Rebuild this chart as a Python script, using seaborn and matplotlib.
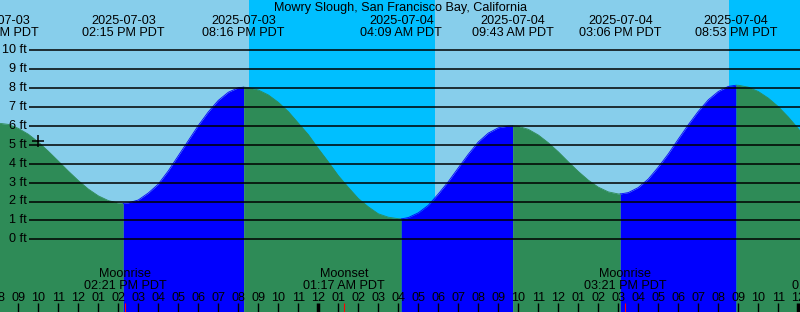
import matplotlib
matplotlib.use("Agg")
import matplotlib.pyplot as plt
import seaborn as sns
import pandas as pd

# ---------------- data ----------------
title = "Mowry Slough, San Francisco Bay, California"

extreme_stamps = ["2025-07-03 07:58 AM", "2025-07-03 02:15 PM", "2025-07-03 08:16 PM",
                  "2025-07-04 04:09 AM", "2025-07-04 09:43 AM", "2025-07-04 03:06 PM",
                  "2025-07-04 08:53 PM"]
extreme_ft = [6.15, 1.90, 8.05, 1.08, 6.00, 2.40, 8.15]

# half-hourly tide heights (hours counted from 2025-07-03 00:00)
tide_hours = [8.5, 9, 9.5, 10, 10.5, 11, 11.5, 12, 12.5, 13, 13.5, 14, 14.5, 15,
              15.5, 16, 16.5, 17, 17.5, 18, 18.5, 19, 19.5, 20, 20.5, 21, 21.5, 22,
              22.5, 23, 23.5, 24, 24.5, 25, 25.5, 26, 26.5, 27, 27.5, 28, 28.5, 29,
              29.5, 30, 30.5, 31, 31.5, 32, 32.5, 33, 33.5, 34, 34.5, 35, 35.5, 36,
              36.5, 37, 37.5, 38, 38.5, 39, 39.5, 40, 40.5, 41, 41.5, 42, 42.5, 43,
              43.5, 44, 44.5, 45, 45.5, 46, 46.5, 47, 47.5, 48, 48.5, 49]
tide_ft = [6.08, 5.87, 5.56, 5.15, 4.66, 4.14, 3.61, 3.11, 2.66, 2.30, 2.05, 1.92, 1.93, 2.08,
           2.45, 2.92, 3.62, 4.42, 5.22, 6.02, 6.74, 7.35, 7.78, 8.02, 8.03, 7.90, 7.64, 7.25,
           6.76, 6.15, 5.54, 4.80, 4.10, 3.37, 2.75, 2.16, 1.72, 1.35, 1.17, 1.09, 1.15, 1.40,
           1.80, 2.40, 3.05, 3.78, 4.50, 5.15, 5.62, 5.90, 5.99, 5.98, 5.82, 5.52, 5.11, 4.63,
           4.10, 3.59, 3.13, 2.76, 2.51, 2.40, 2.47, 2.74, 3.19, 3.82, 4.52, 5.30, 6.06, 6.77,
           7.38, 7.82, 8.09, 8.15, 8.05, 7.82, 7.47, 7.02, 6.47, 5.85, 5.18, 4.49]

night_start = ["2025-07-03 08:32 PM", "2025-07-04 08:32 PM"]
night_end = ["2025-07-04 05:50 AM", "2025-07-05 05:51 AM"]

moon_events = ["Moonrise", "Moonset", "Moonrise", "Moonset"]
moon_stamps = ["2025-07-03 02:21 PM", "2025-07-04 01:17 AM",
               "2025-07-04 03:21 PM", "2025-07-05 01:43 AM"]

marker_stamp = "2025-07-03 09:58 AM"
marker_ft = 5.22

ft_levels = [0, 1, 2, 3, 4, 5, 6, 7, 8, 9, 10]

# ---------------- helpers ----------------
T0 = pd.Timestamp("2025-07-03 00:00")


def hrs(s):
    return (pd.Timestamp(s) - T0) / pd.Timedelta(hours=1)


ext_h = [hrs(s) for s in extreme_stamps]

# ---------------- figure ----------------
W, H = 800, 312
fig = plt.figure(figsize=(W / 100, H / 100), dpi=100)
ax = fig.add_axes([0, 0, 1, 1])

# pixel layout of the reference
X9, PXH = 18.3, 20.0          # x pixel of 09:00 Jul 3, px per hour
Y0, PXF = 239.3, 18.9         # y pixel of 0 ft, px per ft


def px2t(x):
    return 9 + (x - X9) / PXH


def py2h(y):
    return (Y0 - y) / PXF


xmin, xmax = px2t(0), px2t(W)
ymin, ymax = py2h(H), py2h(0)

DAY, NIGHT = "#87CEEB", "#00BFFF"
FALL, RISE = "#2E8B57", "#0000FF"

ax.axvspan(xmin, xmax, color=DAY, zorder=0, lw=0)
for a, b in zip(night_start, night_end):
    ax.axvspan(hrs(a), hrs(b), color=NIGHT, zorder=0.5, lw=0)

# tide series, split into rising / falling parts at the extremes
df = pd.DataFrame({"t": list(ext_h) + tide_hours,
                   "h": list(extreme_ft) + tide_ft}).sort_values("t").reset_index(drop=True)
bounds = sorted(ext_h) + [df.t.max()]
rows = []
palette = {}
for i in range(len(bounds) - 1):
    a, b = bounds[i], bounds[i + 1]
    seg = df[(df.t >= a - 1e-9) & (df.t <= b + 1e-9)].copy()
    rising = seg.h.iloc[-1] > seg.h.iloc[0]
    col = RISE if rising else FALL
    seg["seg"] = f"s{i}"
    palette[f"s{i}"] = col
    rows.append(seg)
    ax.fill_between(seg.t, seg.h, ymin - 1, color=col, lw=0, zorder=1)
segdf = pd.concat(rows)
sns.lineplot(data=segdf, x="t", y="h", hue="seg", palette=palette, legend=False,
             lw=0.6, ax=ax, zorder=1.2, sort=False, estimator=None)

ax.set_xlim(xmin, xmax)
ax.set_ylim(ymin, ymax)
ax.set_axis_off()

FONT = dict(family=["Liberation Sans", "DejaVu Sans"], fontsize=9.1, color="black")

# horizontal ft lines and labels
ax.hlines(ft_levels, px2t(29), xmax, color="black", lw=1.1, zorder=2)
for lv in ft_levels:
    ax.text(px2t(26.7), lv - 3.0 / PXF, f"{lv} ft", ha="right", va="baseline",
            zorder=3, **FONT)

# top title and extreme labels
ax.text(px2t(400), py2h(11.3), title, ha="center", va="baseline", zorder=3, **FONT)
for s, t in zip(extreme_stamps, ext_h):
    ts = pd.Timestamp(s)
    ax.text(t, py2h(24.0), ts.strftime("%Y-%m-%d"), ha="center", va="baseline",
            zorder=3, **FONT)
    ax.text(t, py2h(35.7), ts.strftime("%I:%M %p PDT"), ha="center", va="baseline",
            zorder=3, **FONT)

# current-time marker
ax.plot([hrs(marker_stamp)], [marker_ft], marker="+", color="black", ms=9, mew=1.1,
        zorder=3)

# hour ticks and labels
for hh in range(8, 50):
    if hh < xmin - 1 or hh > xmax + 1:
        continue
    lab = f"{(hh % 12) or 12:02d}"
    ax.text(hh, py2h(300.7), lab, ha="center", va="baseline", zorder=3, **FONT)
    lw = 2.5 if hh % 24 == 0 else 1.0
    ax.vlines(hh, ymin, py2h(303.3), color="black", lw=lw, zorder=3)

# moon events
for name, s in zip(moon_events, moon_stamps):
    t = hrs(s)
    ts = pd.Timestamp(s)
    ax.text(t, py2h(277.3), name, ha="center", va="baseline", zorder=3, **FONT)
    ax.text(t, py2h(289.3), ts.strftime("%I:%M %p PDT"), ha="center", va="baseline",
            zorder=3, **FONT)
    ax.vlines(t, ymin, py2h(303.3), color="red", lw=0.8, zorder=3)

fig.savefig("out.png", dpi=100)
